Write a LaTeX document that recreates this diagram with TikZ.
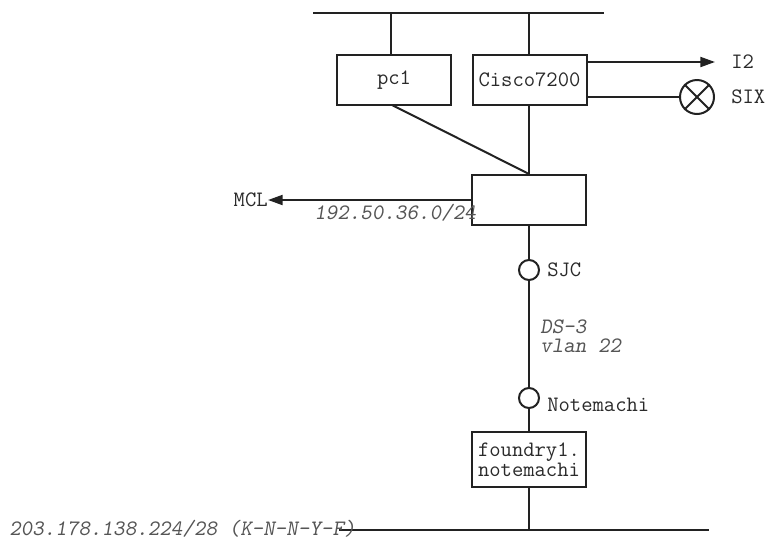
\documentclass[tikz,border=0pt]{standalone}
\usepackage{fontspec}
\usetikzlibrary{arrows.meta}
\definecolor{linec}{HTML}{222222}
\definecolor{textc}{HTML}{2a2a2a}
\definecolor{italc}{HTML}{555555}
\begin{document}
\begin{tikzpicture}[x=0.75pt,y=-0.75pt,
  conn/.style={draw=linec,line width=1.5pt},
  arr/.style={conn,-{Triangle[length=11pt,width=7.5pt]}},
  devbox/.style={draw=linec,line width=1.5pt,fill=white,minimum width=85.5pt,minimum height=37.5pt,inner sep=0pt,font=\ttfamily\fontsize{16.5}{15}\selectfont,text=textc,align=center},
  port/.style={circle,draw=linec,line width=1.5pt,fill=white,minimum size=15pt,inner sep=0pt},
  lbl/.style={font=\ttfamily\fontsize{16.5}{17}\selectfont,text=textc,inner sep=0pt},
  ilbl/.style={font=\ttfamily\fontsize{16.5}{14.25}\selectfont\slshape,text=italc,inner sep=0pt,align=left},
]
\useasboundingbox (0,0) rectangle (772,540);
% buses
\coordinate (topL) at (313,13);
\coordinate (topR) at (604,13);
\coordinate (botL) at (339,530);
\coordinate (botR) at (709,530);
\draw[conn] (topL) -- (topR);
\draw[conn] (botL) -- (botR);
% boxes
\node[devbox] (pc1) at (394,80) {pc1};
\node[devbox] (cisco) at (529.5,80) {Cisco7200};
\node[devbox] (mid) at (529,200) {};
\node[devbox,minimum height=41pt] (foundry) at (529,459.5) {foundry1.\\notemachi};
% ports
\node[port] (sjc) at (529,270) {};
\node[port] (note) at (529,398) {};
\node[lbl,anchor=west] (sjcl) at (547,270) {SJC};
\node[lbl,anchor=west] (notel) at (547,405) {Notemachi};
% bus connections
\coordinate (pcTop) at (391,13);
\coordinate (ciTop) at (529,13);
\draw[conn] (pcTop) -- (pc1.north -| pcTop);
\draw[conn] (ciTop) -- (cisco.north -| ciTop);
\draw[conn] (cisco.south -| mid.north) -- (mid.north);
\coordinate (pcBot) at (392,105);
\draw[conn] (pcBot) -- (mid.north);
\draw[conn] (mid.south) -- (sjc.north);
\draw[conn] (sjc.south) -- (note.north);
\draw[conn] (note.south) -- (foundry.north);
\coordinate (fBus) at (529,530);
\draw[conn] (foundry.south) -- (fBus);
% I2
\coordinate (i2from) at (587,62);
\coordinate (i2tip) at (715,62);
\draw[arr] (i2from) -- (i2tip);
\node[lbl,anchor=west] (i2) at (731,62) {I2};
% SIX
\node[circle,draw=linec,line width=1.5pt,minimum size=25.5pt,inner sep=0pt] (six) at (697,97) {};
\draw[conn] (six.45) -- (six.225);
\draw[conn] (six.135) -- (six.315);
\coordinate (sixfrom) at (587,97);
\draw[conn] (sixfrom) -- (six.west);
\node[lbl,anchor=west] (sixl) at (731,97) {SIX};
% MCL
\node[lbl,anchor=east] (mcl) at (268,200) {MCL};
\draw[arr] (mid.west) -- (mcl.east);
\node[ilbl,anchor=west] (net1) at (314,213) {192.50.36.0/24};
% DS-3
\node[ilbl,anchor=base west] (ds3) at (540,333) {DS-3};
\node[ilbl,anchor=base west] (vlan) at (540,352) {vlan 22};
% bottom network
\node[ilbl,anchor=west] (net2) at (9,529) {203.178.138.224/28 (K-N-N-Y-F)};
\end{tikzpicture}
\end{document}
